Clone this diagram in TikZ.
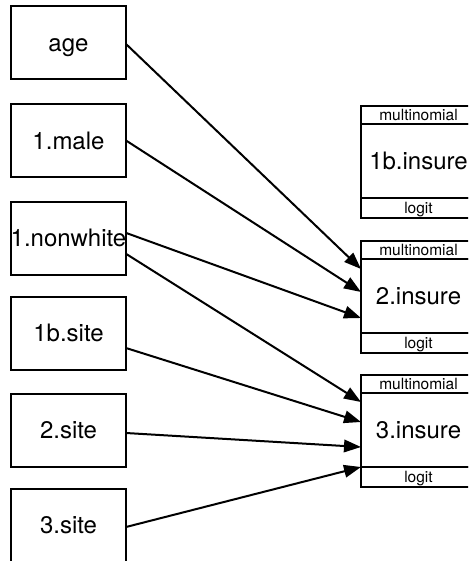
\documentclass[tikz,border=0pt]{standalone}
\usepackage{fontspec}
\setmainfont{TeX Gyre Heros}
\usetikzlibrary{arrows.meta,positioning}
\tikzset{
  boxbase/.style={draw, line width=2pt, minimum width=115pt, inner sep=0pt, outer sep=0pt, text depth=0pt},
  bigtext/.style={font=\fontsize{24}{28}\selectfont, text height=17.2pt},
  smalltext/.style={font=\fontsize{15.5}{17}\selectfont, text height=11.1pt},
  varbox/.style={boxbase, bigtext, minimum height=73pt},
  outbox/.style={boxbase, bigtext, minimum height=74pt},
  topbox/.style={boxbase, smalltext, minimum height=18pt},
  botbox/.style={boxbase, smalltext, minimum height=19.5pt},
  conn/.style={line width=2pt, -{Triangle[length=17pt,width=12.5pt]}}
}
\begin{document}
\begin{tikzpicture}[x=1pt,y=-1pt]
\useasboundingbox (0,0) rectangle (468,561);
\clip (0,0) rectangle (468,561);
% left variable boxes
\node[varbox] (age) at (68.5,42.5) {age};
\node[varbox] (male) at (68.5,140.5) {1.male};
\node[varbox] (nonwhite) at (68.5,238) {1.nonwhite};
\node[varbox] (site1b) at (68.5,333) {1b.site};
\node[varbox] (site2) at (68.5,430) {2.site};
\node[varbox] (site3) at (68.5,525) {3.site};
% right outcome boxes
\node[outbox] (ins1b) at (418.5,161) {1b.insure};
\node[topbox, above=0pt of ins1b] (ins1bt) {multinomial};
\node[botbox, below=0pt of ins1b] (ins1bb) {logit};
\node[outbox] (ins2) at (418.5,296) {2.insure};
\node[topbox, above=0pt of ins2] (ins2t) {multinomial};
\node[botbox, below=0pt of ins2] (ins2b) {logit};
\node[outbox] (ins3) at (418.5,430) {3.insure};
\node[topbox, above=0pt of ins3] (ins3t) {multinomial};
\node[botbox, below=0pt of ins3] (ins3b) {logit};
% connectors
\draw[conn] ([yshift=-1.5pt]age.east) -- ([yshift=27pt]ins2.west);
\draw[conn] (male.east) -- ([yshift=4pt]ins2.west);
\draw[conn] ([yshift=5pt]nonwhite.east) -- ([yshift=-22pt]ins2.west);
\draw[conn] ([yshift=-16pt]nonwhite.east) -- ([yshift=28pt]ins3.west);
\draw[conn] ([yshift=-15pt]site1b.east) -- ([yshift=8pt]ins3.west);
\draw[conn] ([yshift=-3pt]site2.east) -- ([yshift=-17pt]ins3.west);
\draw[conn] ([yshift=-2pt]site3.east) -- ([yshift=-37pt]ins3.west);
\end{tikzpicture}
\end{document}
